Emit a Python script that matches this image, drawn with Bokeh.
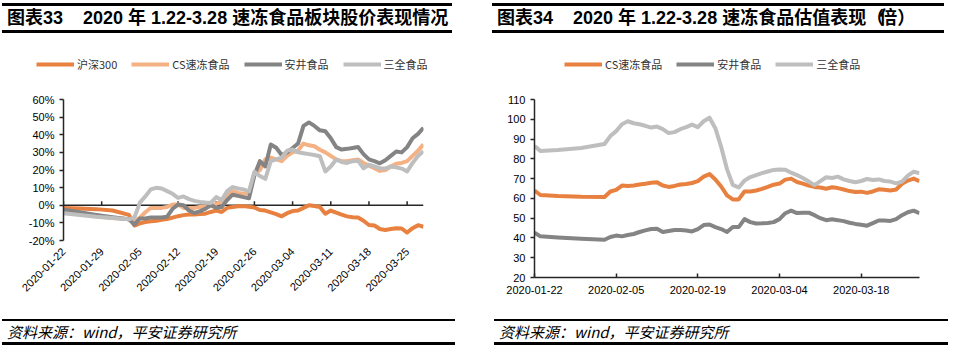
import pandas as pd
from bokeh.plotting import figure
from bokeh.models import (Range1d, FixedTicker, PrintfTickFormatter, Legend,
                          LegendItem, Span, Div)
from bokeh.layouts import row, column
from bokeh.embed import file_html
from bokeh.resources import INLINE

START = "2020-01-22"

# ---------------- left chart: 股价表现 (%) ----------------
left_dates = ["2020-01-22", "2020-01-25", "2020-01-28", "2020-01-31"] + \
    [d.strftime("%Y-%m-%d") for d in pd.date_range("2020-02-03", "2020-03-28")]

hs300 = [-1.5, -1.8, -2.2, -3.0,
         -5.5, -11.5, -10.3, -9.5, -9.1, -8.8, -8.2, -7.8, -7.0, -6.2,
         -5.6, -5.3, -5.3, -5.0, -4.8, -3.8, -3.0, -3.8, -1.5, -1.0,
         -0.6, -0.5, -0.9, -1.3, -2.7, -3.0, -4.0, -5.0, -6.3, -4.5,
         -3.3, -3.0, -1.5, 0.0, -0.4, -1.0, -4.8, -3.0, -4.2, -5.3,
         -6.3, -6.8, -7.0, -8.8, -11.2, -11.5, -13.5, -14.0, -13.5, -13.0,
         -13.2, -15.5, -13.0, -11.3, -12.2]
cs_frozen = [-3.8, -5.0, -6.2, -7.2,
             -8.0, -9.5, -7.0, -4.0, -1.5, -1.5, -1.5, -1.0, 0.4, 0.4,
             -1.5, -1.5, -1.5, -1.0, -0.8, -0.6, 0.8, 2.3, 6.0, 8.0,
             7.0, 6.5, 7.0, 18.0, 20.0, 26.0, 27.0, 26.0, 25.0, 28.0,
             30.0, 31.0, 35.0, 34.0, 33.5, 31.5, 30.0, 28.0, 26.0, 25.0,
             25.0, 25.5, 26.0, 24.0, 22.5, 21.0, 19.5, 20.0, 22.0, 23.5,
             24.0, 25.0, 28.0, 31.0, 34.5]
anjoy = [-2.5, -4.0, -5.5, -6.8,
         -8.0, -11.0, -7.5, -7.5, -7.0, -7.0, -7.0, -6.5, -2.0, 0.4,
         0.0, -3.0, -4.4, -3.5, -2.0, 0.2, -1.5, -1.0, 3.0, 6.0,
         5.3, 4.6, 4.0, 17.0, 25.0, 22.0, 34.5, 32.6, 28.5, 30.0,
         32.5, 35.0, 45.0, 47.0, 45.0, 42.5, 42.0, 38.0, 33.0, 31.6,
         32.0, 32.5, 33.0, 29.0, 26.0, 25.0, 23.8, 25.5, 28.0, 30.5,
         30.0, 33.0, 38.0, 40.5, 44.0]
sanquan = [-4.5, -5.5, -6.5, -7.2,
           -8.0, -7.0, 1.5, 5.0, 9.0, 9.9, 9.5, 8.0, 6.5, 4.2,
           5.0, 3.5, 2.5, 1.9, 1.5, 1.3, 4.6, 3.0, 8.0, 10.3,
           9.5, 9.0, 7.8, 19.0, 16.6, 15.0, 25.0, 26.0, 27.0, 31.0,
           31.6, 30.0, 29.5, 29.0, 28.5, 27.8, 19.2, 22.0, 26.0, 24.5,
           24.0, 25.0, 25.3, 21.0, 23.0, 22.0, 21.0, 20.8, 22.0, 21.5,
           20.8, 19.2, 24.0, 28.0, 30.7]
left_tick_labels = ["2020-01-22", "2020-01-29", "2020-02-05", "2020-02-12",
                    "2020-02-19", "2020-02-26", "2020-03-04", "2020-03-11",
                    "2020-03-18", "2020-03-25"]
left_y_ticks = [-20, -10, 0, 10, 20, 30, 40, 50, 60]

# ---------------- right chart: 估值 (倍) ----------------
right_dates = ["2020-01-22", "2020-01-23", "2020-01-26", "2020-01-30"] + \
    [d.strftime("%Y-%m-%d") for d in pd.date_range("2020-02-03", "2020-03-28")]

cs_pe = [64.0, 61.7, 61.2, 60.8,
         60.7, 63.5, 64.3, 66.5, 66.3, 66.5, 67.0, 67.4, 67.9, 68.1,
         66.5, 65.8, 66.3, 67.0, 67.3, 67.8, 68.7, 71.0, 72.3, 69.6,
         66.0, 61.5, 59.5, 59.5, 63.5, 63.5, 64.0, 64.8, 65.8, 66.9,
         67.5, 69.5, 70.0, 68.3, 67.5, 66.5, 65.8, 65.5, 64.9, 65.6,
         65.2, 64.5, 63.7, 63.2, 63.4, 62.8, 63.5, 64.6, 64.4, 64.0,
         64.5, 67.4, 69.0, 70.0, 68.7]
anjoy_pe = [42.7, 40.8, 40.2, 39.6,
            39.1, 40.5, 41.2, 40.8, 41.5, 42.0, 43.0, 43.8, 44.5, 44.6,
            43.0, 43.5, 44.0, 44.0, 43.8, 43.3, 44.5, 46.5, 46.8, 45.5,
            44.5, 43.0, 45.5, 45.5, 49.5, 48.0, 47.3, 47.4, 47.6, 48.0,
            49.5, 52.5, 53.8, 52.6, 52.7, 52.8, 51.5, 50.0, 49.0, 49.4,
            49.0, 48.5, 47.7, 47.1, 46.7, 46.2, 47.5, 48.8, 48.8, 48.6,
            49.5, 51.5, 53.0, 53.8, 52.5]
sanquan_pe = [86.4, 84.0, 84.5, 85.5,
              87.5, 91.5, 94.0, 97.5, 99.0, 98.0, 97.5, 96.7, 95.8, 96.3,
              95.0, 93.0, 93.5, 95.0, 96.0, 97.3, 96.0, 99.0, 100.8, 95.5,
              86.0, 74.8, 66.8, 65.5, 69.0, 70.8, 71.8, 72.8, 73.6, 74.4,
              74.6, 74.5, 73.0, 71.8, 70.3, 68.5, 66.7, 68.7, 70.7, 70.3,
              71.0, 69.6, 68.8, 68.2, 68.8, 69.8, 69.3, 69.6, 68.8, 68.5,
              67.6, 68.5, 71.5, 73.5, 72.8]
right_tick_labels = ["2020-01-22", "2020-02-05", "2020-02-19", "2020-03-04",
                     "2020-03-18"]
right_y_ticks = [20, 30, 40, 50, 60, 70, 80, 90, 100, 110]

ORANGE = "#E8803F"
LIGHT_ORANGE = "#F4B183"
DARK_GRAY = "#848484"
LIGHT_GRAY = "#BEBEBE"
AXIS = "#262626"
TICK_FONT = "Liberation Sans"
CJK = "Noto Sans CJK SC"
LW = 4


def day_offsets(dates):
    return [int((pd.Timestamp(d) - pd.Timestamp(START)).days) for d in dates]


def base_fig(yr, w, h, ml, mr, mt, mb):
    p = figure(width=w, height=h, x_range=Range1d(0, 66), y_range=yr,
               output_backend="svg", toolbar_location=None,
               min_border_left=ml, min_border_right=mr,
               min_border_top=mt, min_border_bottom=mb)
    p.outline_line_color = None
    p.xgrid.visible = False
    p.ygrid.visible = False
    ya = p.yaxis[0]
    ya.axis_line_color = AXIS
    ya.axis_line_width = 1.5
    ya.major_tick_line_color = AXIS
    ya.major_tick_line_width = 1.5
    ya.major_tick_out = 4
    ya.major_tick_in = 0
    ya.minor_tick_line_color = None
    ya.major_label_standoff = 5
    ya.major_label_text_font = TICK_FONT
    ya.major_label_text_font_size = "11px"
    ya.major_label_text_color = "#000000"
    xa = p.xaxis[0]
    xa.minor_tick_line_color = None
    xa.major_label_text_font = TICK_FONT
    xa.major_label_text_font_size = "11px"
    xa.major_label_text_color = "#000000"
    return p


def legend_fig(items, loc):
    """A strip above the chart that holds only the legend."""
    p = figure(width=479, height=54, x_range=Range1d(0, 1), y_range=Range1d(0, 1),
               x_axis_type=None, y_axis_type=None, output_backend="svg",
               toolbar_location=None, min_border=0, frame_align=False)
    p.outline_line_color = None
    p.xgrid.visible = False
    p.ygrid.visible = False
    rs = []
    for label, color in items:
        # series swatch only: the points lie outside the strip's visible range
        r = p.line(x=[5, 6], y=[5, 6], line_color=color, line_width=LW)
        rs.append(LegendItem(label=label, renderers=[r]))
    lg = Legend(items=rs, orientation="horizontal", location=loc,
                glyph_width=38, glyph_height=12, label_standoff=3, spacing=14,
                label_text_font=CJK, label_text_font_size="11px",
                label_text_color="#333333", border_line_color=None,
                background_fill_alpha=0, padding=0, margin=0)
    p.add_layout(lg)
    return p


# ---------- left figure ----------
lx = day_offsets(left_dates)
lticks = day_offsets(left_tick_labels)
p1 = base_fig(Range1d(-20, 60), 479, 228, 63, 56, 9, 78)
p1.yaxis[0].ticker = FixedTicker(ticks=left_y_ticks)
p1.yaxis[0].formatter = PrintfTickFormatter(format="%d%%")
xa = p1.xaxis[0]
xa.ticker = FixedTicker(ticks=lticks)
xa.major_label_overrides = {t: s for t, s in zip(lticks, left_tick_labels)}
xa.major_label_orientation = 0.785398
xa.axis_line_color = None
xa.major_tick_line_color = None
xa.major_tick_out = 0
xa.major_tick_in = 0
xa.major_label_standoff = 9
p1.add_layout(Span(location=0, dimension="width", line_color=AXIS,
                   line_width=1.5, level="underlay"))
p1.segment(x0=lticks, y0=[0] * len(lticks), x1=lticks, y1=[2.2] * len(lticks),
           line_color=AXIS, line_width=1.5, level="underlay")
p1.line(lx, hs300, line_color=ORANGE, line_width=LW, line_join="round")
p1.line(lx, cs_frozen, line_color=LIGHT_ORANGE, line_width=LW, line_join="round")
p1.line(lx, anjoy, line_color=DARK_GRAY, line_width=LW, line_join="round")
p1.line(lx, sanquan, line_color=LIGHT_GRAY, line_width=LW, line_join="round")
leg1 = legend_fig([("沪深300", ORANGE), ("CS速冻食品", LIGHT_ORANGE),
                   ("安井食品", DARK_GRAY), ("三全食品", LIGHT_GRAY)], (36, 18))

# ---------- right figure ----------
rx = day_offsets(right_dates)
rticks = day_offsets(right_tick_labels)
p2 = base_fig(Range1d(20, 110), 479, 228, 55, 39, 9, 41)
p2.yaxis[0].ticker = FixedTicker(ticks=right_y_ticks)
xb = p2.xaxis[0]
xb.ticker = FixedTicker(ticks=rticks)
xb.major_label_overrides = {t: s for t, s in zip(rticks, right_tick_labels)}
xb.axis_line_color = AXIS
xb.axis_line_width = 1.5
xb.major_tick_line_color = AXIS
xb.major_tick_line_width = 1.5
xb.major_tick_in = 4
xb.major_tick_out = 0
xb.major_label_standoff = 8
p2.line(rx, cs_pe, line_color=ORANGE, line_width=LW, line_join="round")
p2.line(rx, anjoy_pe, line_color=DARK_GRAY, line_width=LW, line_join="round")
p2.line(rx, sanquan_pe, line_color=LIGHT_GRAY, line_width=LW, line_join="round")
leg2 = legend_fig([("CS速冻食品", ORANGE), ("安井食品", DARK_GRAY),
                   ("三全食品", LIGHT_GRAY)], (85, 18))


# ---------- titles and footers ----------
def title_div(a, b, ml, w):
    html = (f'<div style="margin:3px 0 0 {ml}px;width:{w}px;height:30px;'
            'box-sizing:border-box;border-top:3px solid #000;border-bottom:3px solid #000;'
            f"font-family:'Liberation Sans','{CJK}',sans-serif;font-weight:bold;font-size:18px;"
            'line-height:24px;white-space:nowrap;padding-left:5px;color:#000;overflow:hidden">'
            f'{a}<span style="display:inline-block;width:20px"></span>{b}</div>')
    return Div(text=html, width=479, height=36, margin=(0, 0, 0, 0))


def footer_div(text, ml, w):
    html = (f'<div style="margin:1px 0 0 {ml}px;width:{w}px;height:26px;'
            'box-sizing:border-box;border-top:2px solid #000;border-bottom:3px solid #000;'
            f"font-family:'{CJK}',sans-serif;font-style:italic;font-size:15px;"
            'line-height:21px;white-space:nowrap;padding-left:5px;color:#000">'
            f'{text}</div>')
    return Div(text=html, width=479, height=34, margin=(0, 0, 0, 0))


SOURCE = "资料来源：wind，平安证券研究所"
PAREN = '<span style="letter-spacing:-5px">{}</span>'
t1 = title_div("图表33", "2020 年 1.22-3.28 速冻食品板块股价表现情况", 2, 450)
t2 = title_div("图表34", "2020 年 1.22-3.28 速冻食品估值表现"
               + PAREN.format("（") + "倍" + PAREN.format("）"), 13, 452)
f1 = footer_div(SOURCE, 2, 453)
f2 = footer_div(SOURCE, 15, 454)

layout = row(column(t1, leg1, p1, f1), column(t2, leg2, p2, f2))
open("out.html", "w").write(file_html(layout, INLINE))
